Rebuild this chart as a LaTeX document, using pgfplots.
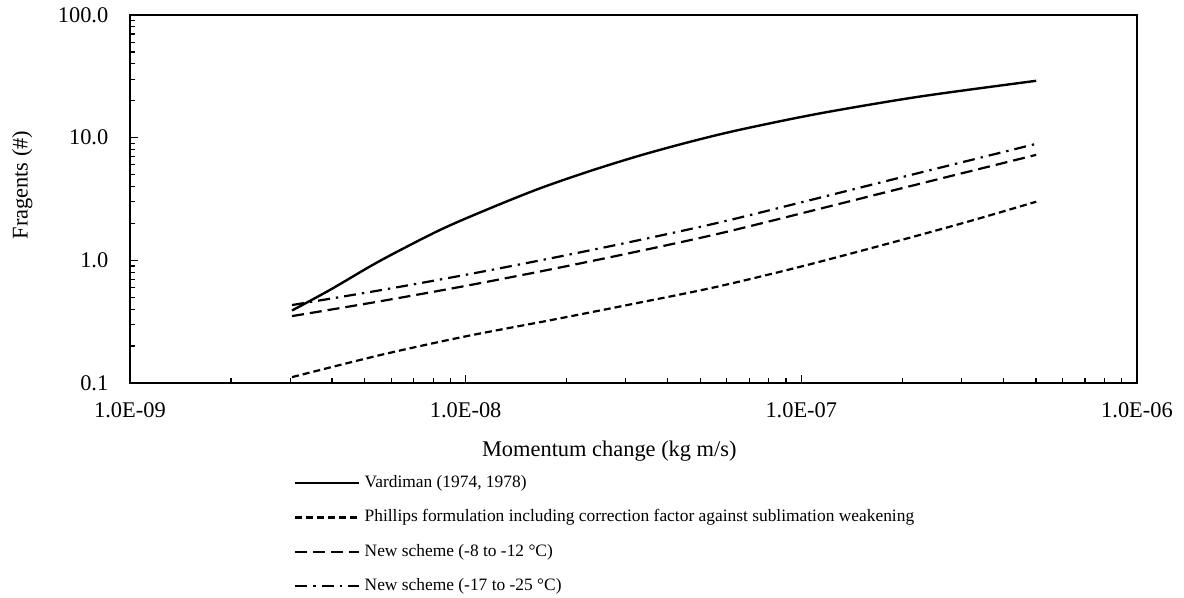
\documentclass[border=0pt]{standalone}
\usepackage{fontspec}
\setmainfont{Liberation Serif}
\usepackage{pgfplots}
\pgfplotsset{compat=1.18}
\begin{document}
\begin{tikzpicture}
\useasboundingbox (-65pt,-107.5pt) rectangle (527pt,191.5pt);
\begin{axis}[
  at={(0,0)}, anchor=south west,
  scale only axis, width=503.5pt, height=184pt,
  xmode=log, ymode=log,
  xmin=1e-9, xmax=1e-6, ymin=0.1, ymax=100,
  axis line style={line width=1pt},
  tick pos=left, tick align=inside,
  major tick length=4pt, minor tick length=2.5pt,
  every tick/.style={black, line width=0.6pt},
  xtick={1e-9,1e-8,1e-7,1e-6},
  xticklabels={1.0E-09,1.0E-08,1.0E-07,1.0E-06},
  minor xtick={2e-9,3e-9,4e-9,5e-9,6e-9,7e-9,8e-9,9e-9,2e-8,3e-8,4e-8,5e-8,6e-8,7e-8,8e-8,9e-8,2e-7,3e-7,4e-7,5e-7,6e-7,7e-7,8e-7,9e-7},
  ytick={0.1,1,10,100},
  yticklabels={0.1,1.0,10.0,100.0},
  minor ytick={0.2,0.3,0.4,0.5,0.6,0.7,0.8,0.9,2,3,4,5,6,7,8,9,20,30,40,50,60,70,80,90},
  ticklabel style={font=\fontsize{11.2}{13}\selectfont},
  xticklabel style={anchor=north, yshift=-6.3pt},
  yticklabel style={anchor=east, xshift=-7.3pt},
  xlabel={Momentum change (kg m/s)},
  ylabel={Fragents (\#)},
  label style={font=\fontsize{11.2}{13}\selectfont},
  xlabel style={at={(axis description cs:0.476,-0.2003)}, anchor=base},
  ylabel style={at={(axis description cs:-0.107,0.538)}, anchor=center, rotate=0},
  legend cell align=left,
  legend style={draw=none, fill=none, inner sep=0pt,
    at={(axis description cs:0.1628,-0.2478)}, anchor=north west,
    font=\fontsize{8.7}{10}\selectfont,
    row sep=8.67pt,
    nodes={inner xsep=2pt, inner ysep=0pt, text height=6.5pt, text depth=2pt}},
  legend image code/.code={\draw[#1] (0pt,0pt) -- (32pt,0pt);},
]
\addplot[black, line width=1.2pt, smooth, tension=0.5] coordinates {
(3.04e-9,0.390) (3.94e-9,0.573) (5.56e-9,0.991) (8.38e-9,1.766) (1.181e-8,2.653)
(1.665e-8,3.863) (2.346e-8,5.343) (3.305e-8,7.15) (4.66e-8,9.25) (6.56e-8,11.6)
(1.136e-7,15.77) (2.255e-7,21.63) (5.01e-7,29.07)};
\addlegendentry{Vardiman (1974, 1978)}
\addplot[black, line width=1.1pt, dash pattern=on 3.5pt off 2pt, smooth, tension=0.5] coordinates {
(3.04e-9,0.1117) (5.62e-9,0.170) (1.0e-8,0.240) (1.778e-8,0.324) (3.162e-8,0.442)
(5.623e-8,0.610) (1.0e-7,0.891) (1.778e-7,1.349) (3.162e-7,2.080) (5.01e-7,3.006)};
\addlegendentry{Phillips formulation including correction factor against sublimation weakening}
\addplot[black, line width=1.1pt, dash pattern=on 6pt off 3pt, smooth, tension=0.5] coordinates {
(3.04e-9,0.351) (5.62e-9,0.466) (1.0e-8,0.619) (1.778e-8,0.840) (3.162e-8,1.162)
(5.623e-8,1.639) (1.0e-7,2.413) (1.778e-7,3.58) (3.162e-7,5.30) (5.01e-7,7.24)};
\addlegendentry{New scheme (-8 to -12 °C)}
\addplot[black, line width=1.1pt, dash pattern=on 6pt off 3pt on 1.2pt off 3pt, smooth, tension=0.5] coordinates {
(3.04e-9,0.432) (5.62e-9,0.573) (1.0e-8,0.762) (1.778e-8,1.034) (3.162e-8,1.429)
(5.623e-8,2.017) (1.0e-7,2.969) (1.778e-7,4.406) (3.162e-7,6.516) (5.01e-7,8.91)};
\addlegendentry{New scheme (-17 to -25 °C)}
\end{axis}
\end{tikzpicture}
\end{document}
